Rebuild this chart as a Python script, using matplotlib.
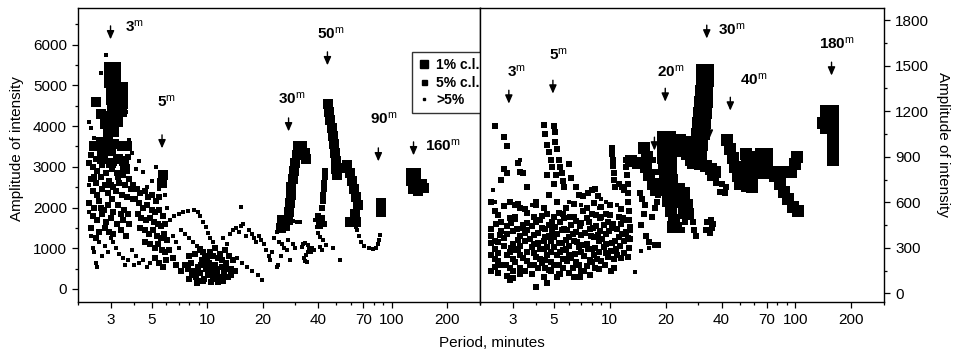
import matplotlib.pyplot as plt
from matplotlib.lines import Line2D
from matplotlib.ticker import FixedLocator, NullFormatter, FuncFormatter

plt.rcParams['font.family'] = ['Liberation Sans', 'DejaVu Sans']
plt.rcParams['mathtext.fontset'] = 'custom'
plt.rcParams['mathtext.rm'] = 'Liberation Sans'
plt.rcParams['mathtext.bf'] = 'Liberation Sans:bold'
plt.rcParams['mathtext.it'] = 'Liberation Sans:italic'

# ---------------- left panel: (period [min], amplitude) ----------------
left_big = [  # 1% c.l.
    (2.95, 5450), (3.2, 5450), (2.95, 5250), (3.2, 5250), (2.95, 5050), (3.2, 5050),
    (3.0, 4850), (3.2, 4850), (3.0, 4650), (3.25, 4650), (3.05, 4450), (3.3, 4450),
    (3.5, 4950), (3.5, 4750), (3.5, 4550), (3.45, 4350),
    (2.5, 4600), (2.65, 4300), (2.85, 4250), (3.05, 4250), (2.8, 4050), (3.1, 4050), (3.3, 4100),
    (2.9, 3850), (3.15, 3850), (2.45, 3500), (2.65, 3600), (2.9, 3600), (3.15, 3550), (3.45, 3500),
    (3.7, 3500), (2.75, 3400), (3.0, 3400), (3.3, 3200), (3.55, 3150), (3.6, 2950), (3.0, 3100),
    (2.7, 3200),
    (5.75, 2800), (5.7, 2600),
    (25.0, 1500), (26.5, 1550), (25.5, 1700), (27.5, 1700), (27.7, 1900), (28.0, 2100), (28.3, 2300),
    (28.6, 2500), (29.0, 2700), (29.5, 2900), (30.0, 3100), (30.5, 3300), (31.0, 3500),
    (32.5, 3520), (34.0, 3350), (34.2, 3200),
    (45.0, 4550), (45.7, 4350), (46.5, 4150), (47.3, 3950), (48.0, 3750), (48.8, 3550),
    (49.5, 3350), (49.8, 3150), (50.0, 2950), (50.2, 2800), (54.0, 2980),
    (57.5, 3050), (59.0, 2850), (60.5, 2650), (62.0, 2450), (64.0, 2250), (65.5, 2050),
    (63.0, 1850), (59.5, 1650), (64.0, 1650),
    (87.0, 2100), (87.0, 1900),
    (127, 2850), (135, 2850), (127, 2650), (135, 2650), (130, 2450), (145, 2580), (150, 2480),
    (138, 2400),
]

left_mid = [  # 5% c.l.
    (2.35, 3300), (2.5, 3200), (2.62, 3350), (2.8, 3250), (3.15, 3100), (3.4, 3200), (3.75, 3250),
    (2.4, 3000), (2.55, 2900), (2.7, 3050), (2.85, 2850), (3.05, 2950), (3.25, 2850), (3.5, 2800),
    (3.8, 2700), (2.35, 2700), (2.5, 2600), (2.65, 2750), (2.8, 2550), (2.95, 2650), (3.1, 2500),
    (3.35, 2600), (3.6, 2550), (3.85, 2450), (2.4, 2400), (2.55, 2300), (2.7, 2450), (2.9, 2350),
    (3.05, 2200), (3.2, 2400), (3.45, 2300), (3.7, 2250), (3.95, 2200), (2.3, 2100), (2.45, 2000),
    (2.6, 2150), (2.75, 1950), (2.9, 2050), (3.1, 1900), (3.3, 2050), (3.55, 1950), (3.75, 1850),
    (2.4, 1800), (2.55, 1700), (2.7, 1850), (2.85, 1650), (3.0, 1750), (3.25, 1600), (3.5, 1700),
    (3.8, 1600), (2.35, 1500), (2.6, 1400), (2.8, 1500), (3.1, 1350), (3.4, 1450), (3.65, 1300),
    (2.3, 3100), (2.45, 2750), (3.0, 2550), (3.3, 2750), (2.65, 2000), (3.4, 1850), (2.5, 1250),
    (2.95, 1400),
    (3.95, 2550), (4.15, 2450), (4.35, 2350), (4.6, 2400), (4.8, 2250), (5.05, 2300), (5.3, 2150),
    (5.5, 2250), (4.05, 2200), (4.3, 2100), (4.5, 2000), (4.75, 2050), (5.0, 1950), (5.25, 1900),
    (5.5, 1950), (5.75, 1800), (4.2, 1850), (4.4, 1750), (4.65, 1700), (4.9, 1750), (5.15, 1650),
    (5.4, 1600), (5.65, 1550), (5.95, 1600), (4.35, 1500), (4.6, 1450), (4.85, 1350), (5.1, 1450),
    (5.35, 1300), (5.6, 1250), (5.85, 1350), (6.1, 1200), (4.6, 1150), (4.9, 1100), (5.2, 1000),
    (5.45, 1100), (5.7, 950), (5.95, 900), (6.25, 950), (6.0, 700), (5.8, 550), (5.5, 650),
    (5.2, 750),
    (7.6, 600), (7.9, 500), (8.2, 650), (8.5, 450), (8.7, 300), (8.9, 550), (9.2, 400), (9.4, 700),
    (9.6, 250), (9.9, 500), (10.1, 350), (10.3, 650), (10.6, 450), (10.8, 250), (11.0, 600),
    (11.3, 400), (11.5, 750), (11.8, 300), (12.1, 550), (12.4, 400), (12.7, 650), (13.0, 300),
    (13.4, 500), (13.8, 700), (14.2, 450), (8.0, 800), (8.6, 850), (9.1, 950), (9.7, 800),
    (10.4, 900), (11.1, 1000), (11.7, 850), (12.5, 950), (13.2, 800), (8.8, 150), (9.5, 200),
    (10.5, 160), (11.5, 180), (12.2, 200), (7.2, 450), (6.8, 600), (6.5, 750),
    (8.3, 350), (8.0, 250), (9.0, 200), (9.3, 600), (9.8, 650), (10.2, 550), (10.9, 350),
    (11.2, 500), (11.6, 250), (12.0, 700), (12.3, 300), (12.9, 500), (13.5, 350), (10.0, 750),
    (10.8, 800), (9.5, 900),
    (43.5, 2900), (43.5, 2750), (43.0, 2600), (43.0, 2450), (42.5, 2300), (42.5, 2150), (42.0, 2000),
    (40.0, 1800), (42.0, 1750), (40.5, 1650), (43.0, 1600), (41.0, 1550),
]

left_small = [  # >5%
    (2.3, 4100), (2.35, 3950), (2.45, 3700), (2.85, 5750), (2.65, 5300), (3.65, 4350), (3.8, 3650),
    (3.9, 3350), (2.3, 2550), (2.3, 1900), (2.35, 1300), (2.4, 1000), (2.45, 900), (2.5, 650),
    (2.52, 550), (2.6, 1150), (2.7, 800), (2.8, 1050), (2.9, 900), (3.0, 1250), (3.1, 1150),
    (3.2, 1000), (3.35, 850), (3.5, 750), (3.6, 600), (3.75, 700), (3.9, 950), (4.0, 600),
    (4.1, 800), (4.3, 650), (4.5, 700), (4.7, 550), (4.9, 650),
    (4.3, 3150), (4.5, 2880), (5.0, 2640), (5.3, 3000), (4.1, 2950), (4.7, 2500), (5.5, 2450),
    (5.9, 2300), (6.1, 2000),
    (6.3, 1700), (6.6, 1780), (7.0, 1850), (7.4, 1900), (7.9, 1920), (8.5, 1930), (8.9, 1880),
    (9.2, 1780), (9.5, 1650), (9.8, 1520), (10.1, 1380), (10.4, 1250), (10.8, 1150),
    (7.2, 1450), (7.6, 1350), (8.0, 1250), (8.4, 1150), (8.8, 1050), (9.3, 1000),
    (6.5, 1300), (6.8, 1150), (7.0, 1000),
    (12.2, 1250), (12.8, 1100), (13.3, 1350), (13.8, 1450), (14.3, 1500), (14.8, 1400),
    (15.3, 1550), (15.7, 1600), (15.3, 2020), (16.2, 1300), (16.8, 1450), (17.4, 1350),
    (18.0, 1250), (18.5, 1150), (19.0, 1300), (19.6, 1200), (20.2, 1100), (20.8, 960),
    (21.5, 800), (22.0, 700), (19.8, 220), (18.9, 350), (17.6, 450), (16.5, 550), (15.5, 650),
    (14.5, 750),
    (23.0, 1250), (23.8, 1400), (24.5, 1150), (25.3, 1100), (26.0, 1000), (26.9, 950),
    (27.5, 1200), (28.1, 700), (23.8, 550), (25.0, 800), (22.5, 900), (24.2, 600), (29.0, 1100),
    (30.0, 1000), (29.0, 1680), (30.5, 1650), (32.0, 1640),
    (32.5, 1030), (33.2, 1100), (34.0, 1120), (35.0, 1070), (35.5, 990), (35.0, 900), (34.2, 830),
    (33.6, 760), (33.8, 690), (34.8, 660), (36.5, 900), (38.0, 950), (37.0, 1000),
    (38.4, 1700), (39.3, 1520), (40.0, 1380), (41.0, 1280), (42.5, 1200), (40.8, 1040),
    (41.7, 960), (44.0, 1080), (48.2, 1000), (52.5, 710),
    (65, 1450), (66, 1290), (68, 1150), (71, 1050), (75, 1000), (79, 990), (82, 1010),
    (84.5, 1100), (85.5, 1200), (86.5, 1330), (62, 1600), (64, 1530),
]

# ---------------- right panel ----------------
right_big = [
    (31.5, 1470), (34.0, 1470), (31.2, 1400), (33.8, 1400), (31.0, 1330), (33.5, 1330),
    (30.7, 1260), (33.2, 1260), (30.3, 1190), (32.8, 1190), (30.0, 1120), (32.5, 1120),
    (29.5, 1050), (32.0, 1050), (29.0, 980), (31.5, 980), (28.5, 910), (31.0, 910),
    (28.0, 860), (30.5, 850), (33.0, 840), (35.0, 820), (37.0, 800), (36.0, 780),
    (13.0, 870), (14.2, 860), (15.3, 960), (15.8, 900), (15.6, 830), (16.2, 780), (17.2, 720),
    (17.8, 680),
    (19.3, 1030), (21.2, 1030), (19.3, 960), (21.3, 960), (19.4, 890), (21.4, 890), (19.6, 820),
    (21.5, 820), (19.8, 750), (21.7, 750), (20.0, 680), (22.0, 680), (20.5, 610), (22.2, 610),
    (21.5, 540), (22.3, 480), (21.8, 440),
    (23.8, 1010), (25.6, 1000), (24.3, 940), (26.0, 920), (27.3, 880), (28.8, 860),
    (23.5, 690), (25.2, 660), (24.2, 600), (26.0, 580), (25.0, 530), (26.5, 520),
    (43.0, 1010), (44.5, 950), (46.0, 890), (47.5, 830), (49.0, 770), (50.5, 720),
    (54, 920), (57, 900), (55, 850), (58, 840), (55, 780), (58, 770), (55, 710), (58, 700),
    (65, 920), (70, 920), (66, 860), (70, 850), (68, 790),
    (76, 800), (82, 790), (88, 800), (95, 800), (100, 850), (102, 900),
    (78, 770), (83, 720), (87, 670), (91, 620), (97, 570), (103, 540),
    (147, 1200), (160, 1200), (160, 1130), (160, 1060), (160, 990), (160, 920), (160, 880),
    (140, 1120), (147, 1090),
]

right_mid = [
    # dense cloud, 2.3-13 min
    (2.4, 545), (2.9, 495), (3.3, 560), (3.9, 505), (4.6, 520), (5.3, 530), (6.1, 500),
    (7.2, 545), (8.4, 515), (9.5, 525), (11.2, 500),
    (2.6, 470), (3.1, 490), (3.6, 465), (4.2, 480), (4.9, 470), (5.7, 495), (6.6, 475),
    (7.7, 470), (8.9, 495), (10.4, 455), (12.3, 480),
    (2.3, 425), (2.8, 445), (3.4, 430), (3.8, 445), (4.5, 425), (5.1, 440), (5.9, 420),
    (6.9, 445), (8.1, 430), (9.3, 450), (11.0, 425), (12.8, 440),
    (2.55, 385), (3.0, 410), (3.5, 395), (4.1, 400), (4.7, 380), (5.5, 415), (6.3, 390),
    (7.4, 400), (8.6, 385), (9.9, 410), (11.6, 390),
    (2.4, 345), (2.7, 365), (3.2, 350), (3.7, 360), (4.4, 345), (5.0, 370), (5.8, 350),
    (6.7, 340), (7.9, 375), (9.1, 360), (10.7, 345), (12.5, 365),
    (2.3, 330), (2.95, 300), (3.3, 315), (3.9, 325), (4.6, 305), (5.3, 330), (6.0, 315),
    (7.1, 320), (8.3, 300), (9.6, 325), (11.3, 310),
    (2.5, 265), (3.05, 285), (3.6, 270), (4.2, 290), (4.8, 270), (5.6, 285), (6.5, 260),
    (7.6, 290), (8.8, 270), (10.2, 280), (12.0, 265),
    (2.4, 225), (2.8, 250), (3.4, 235), (4.0, 240), (4.5, 220), (5.2, 250), (6.2, 230),
    (7.3, 245), (8.5, 225), (9.8, 240), (11.5, 230),
    (2.6, 190), (3.1, 205), (3.7, 185), (4.3, 200), (5.0, 185), (5.9, 210), (6.8, 190),
    (8.0, 205), (9.4, 185),
    (2.3, 150), (2.9, 165), (3.5, 150), (4.1, 170), (4.7, 155), (5.6, 165), (7.0, 150),
    (8.7, 160), (10.6, 170),
    (2.8, 115), (3.3, 125), (4.4, 110), (5.3, 125), (6.4, 110), (7.8, 120),
    (2.9, 85), (3.0, 100), (4.0, 40), (4.6, 70), (5.2, 105), (5.4, 130), (6.9, 105), (10.2, 150),
    (2.3, 600), (2.7, 575), (3.2, 590), (3.5, 555), (4.0, 585), (4.4, 565), (5.2, 605),
    (5.8, 565), (6.4, 590), (7.5, 560), (8.2, 595), (9.0, 570), (10.0, 585), (11.5, 555),
    (2.5, 515), (3.1, 505), (3.6, 530), (4.3, 510), (5.0, 500), (5.6, 520), (6.4, 505),
    (7.5, 495), (8.0, 525), (9.0, 500), (10.0, 515), (11.8, 495),
    (2.45, 455), (2.95, 465), (3.4, 450), (4.0, 470), (4.7, 450), (5.4, 470), (6.2, 450),
    (7.0, 465), (8.4, 445), (9.8, 470), (11.5, 455),
    (2.6, 410), (3.15, 425), (3.6, 415), (4.3, 430), (4.9, 410), (5.7, 425), (6.6, 405),
    (7.8, 425), (8.9, 410), (10.3, 430), (12.2, 405),
    (2.3, 375), (2.8, 390), (3.3, 375), (3.9, 385), (4.5, 370), (5.2, 390), (6.0, 370),
    (7.0, 385), (8.2, 370), (9.5, 390), (11.2, 370),
    (2.5, 340), (3.0, 325), (3.5, 345), (4.1, 330), (4.8, 345), (5.5, 330), (6.4, 345),
    (7.5, 325), (8.7, 345), (10.3, 330), (12.0, 345),
    (2.4, 295), (2.7, 310), (3.2, 290), (3.8, 305), (4.4, 290), (5.0, 305), (5.8, 290),
    (6.8, 305), (8.0, 290), (9.3, 305), (10.8, 290),
    (2.3, 255), (2.9, 270), (3.3, 250), (3.9, 265), (4.6, 250), (5.4, 270), (6.0, 255),
    (7.0, 270), (8.2, 250), (9.5, 265), (11.0, 250),
    (2.5, 210), (3.0, 225), (3.6, 210), (4.2, 225), (4.8, 205), (5.6, 225), (6.6, 205),
    (7.8, 220), (9.0, 210), (10.5, 225),
    (2.4, 175), (2.75, 185), (3.3, 170), (3.9, 185), (4.5, 170), (5.3, 185), (6.3, 170),
    (7.5, 180), (8.3, 170),
    (2.5, 135), (3.0, 145), (3.8, 130), (4.8, 145), (6.0, 135), (7.3, 145),
    # 40 min small cluster and lower blocks
    (37.5, 730), (40.0, 720), (42.5, 700), (39.0, 670), (41.5, 660),
    (22.5, 490), (23.5, 450), (24.5, 420), (25.5, 470), (28.0, 470), (28.5, 420), (29.0, 380),
    (33.0, 420), (34.5, 400), (35.5, 430), (35.3, 480), (36.0, 460), (33.5, 470),
    # chains
    (10.3, 960), (10.3, 920), (10.4, 880), (10.4, 840), (10.5, 790), (10.6, 750), (10.7, 700),
    (12.2, 880), (12.3, 830), (12.4, 780), (12.5, 720), (12.6, 660), (12.6, 600), (12.7, 540),
    (12.7, 480), (12.8, 420), (12.8, 360), (12.7, 300), (12.6, 240),
    (11.2, 720), (11.6, 700), (12.0, 680),
    (14.5, 660), (15.0, 620), (15.5, 580), (15.2, 520), (14.8, 450), (15.6, 380), (16.3, 340),
    (17.5, 320), (18.3, 320), (16.8, 500), (17.5, 560), (18.0, 600), (18.2, 650), (17.9, 720),
    (17.5, 800), (17.2, 880),
    (2.4, 1100), (2.7, 1030), (2.8, 970), (2.7, 820), (2.8, 790), (2.6, 750), (3.2, 860),
    (3.3, 800), (3.4, 790), (3.6, 700), (2.9, 600), (3.1, 580),
    (4.4, 1110), (4.5, 1050), (4.6, 980), (4.7, 930), (4.8, 880), (4.9, 830), (5.0, 1100),
    (5.05, 1060), (5.1, 1000), (5.2, 950), (5.3, 880), (5.4, 830), (5.5, 790), (5.6, 740),
    (5.7, 700), (5.15, 780), (5.0, 720), (4.7, 650), (4.6, 780),
    (6.2, 760), (6.6, 700), (6.8, 650), (7.2, 640), (7.6, 660), (8.0, 680), (8.3, 690), (8.6, 640),
    (6.0, 850), (4.0, 600),
]

right_small = [
    (13.6, 140), (14.8, 280), (16.2, 300), (3.3, 880), (2.4, 600), (9.5, 600), (8.7, 560),
    (6.0, 600), (2.35, 680), (3.8, 580), (7.0, 580), (9.0, 620), (11.0, 580),
]

# arrows / labels
left_arrow_p = [3.0, 5.7, 27.6, 44.8, 84.5, 131]
left_arrow_a = [6460, 3784, 4200, 5823, 3464, 3612]
left_text = ['3', '5', '30', '50', '90', '160']
left_text_p = [3.6, 5.33, 24.2, 39.5, 76.3, 152]
left_text_a = [6322, 4472, 4545, 6143, 4054, 3390]

right_arrow_p = [2.86, 4.94, 19.9, 33.3, 44.6, 156.5, 17.4, 34.4]
right_arrow_a = [1338, 1404, 1351, 1767, 1292, 1523, 1029, 1107]
right_text = ['3', '5', '20', '30', '40', '180']
right_text_p = [2.79, 4.7, 17.96, 38.5, 50.4, 133.5]
right_text_a = [1430, 1543, 1430, 1707, 1378, 1615]

S_BIG_L, S_BIG_R, S_MID, S_SMALL = 62, 78, 18, 6

fig = plt.figure(figsize=(9.55, 3.52), dpi=100)
ax1 = fig.add_axes([78 / 955, 50 / 352, 402 / 955, 294 / 352])
ax2 = fig.add_axes([480 / 955, 50 / 352, 404 / 955, 294 / 352])


def dots(ax, pts, s):
    ax.scatter([p for p, a in pts], [a for p, a in pts], s=s, marker='s',
               c='black', linewidths=0)


dots(ax1, left_small, S_SMALL)
dots(ax1, left_mid, S_MID)
dots(ax1, left_big, S_BIG_L)
dots(ax2, right_small, S_SMALL)
dots(ax2, right_mid, S_MID)
dots(ax2, right_big, S_BIG_R)

arrow_kw = dict(arrowstyle='-|>,head_length=0.5,head_width=0.22', color='black',
                lw=1, shrinkA=0, shrinkB=0)
for p, a in zip(left_arrow_p, left_arrow_a):
    ax1.annotate('', xy=(p, a - 330), xytext=(p, a), arrowprops=arrow_kw)
for t, p, a in zip(left_text, left_text_p, left_text_a):
    ax1.text(p, a, r'$\mathbf{%s}^{\mathrm{m}}$' % t, fontsize=11, va='baseline', ha='left')
for p, a in zip(right_arrow_p, right_arrow_a):
    ax2.annotate('', xy=(p, a - 88), xytext=(p, a), arrowprops=arrow_kw)
for t, p, a in zip(right_text, right_text_p, right_text_a):
    ax2.text(p, a, r'$\mathbf{%s}^{\mathrm{m}}$' % t, fontsize=11, va='baseline', ha='left')

for ax in (ax1, ax2):
    ax.set_xscale('log')
    ax.set_xlim(2, 300)
    ax.xaxis.set_major_locator(FixedLocator([3, 5, 10, 20, 40, 70, 100, 200]))
    ax.xaxis.set_major_formatter(FuncFormatter(lambda v, pos: '%g' % v))
    ax.xaxis.set_minor_locator(FixedLocator([2, 4, 6, 7, 8, 9, 30, 50, 60, 80, 90, 300]))
    ax.xaxis.set_minor_formatter(NullFormatter())
    ax.tick_params(which='major', direction='out', length=4, width=0.9, labelsize=11, pad=4)
    ax.tick_params(which='minor', direction='out', length=2.5, width=0.9)
    for sp in ax.spines.values():
        sp.set_linewidth(1.0)

ax1.set_ylim(-320, 6900)
ax1.yaxis.set_major_locator(FixedLocator(range(0, 7000, 1000)))
ax1.yaxis.set_minor_locator(FixedLocator(range(500, 7000, 1000)))
ax1.tick_params(axis='y', which='both', right=False)

ax2.set_ylim(-57, 1880)
ax2.yaxis.tick_right()
ax2.yaxis.set_major_locator(FixedLocator(range(0, 1900, 300)))
ax2.yaxis.set_minor_locator(FixedLocator(range(150, 1900, 300)))
ax2.tick_params(axis='y', which='both', left=False)

handles = [Line2D([], [], marker='s', ls='none', color='black', markersize=6),
           Line2D([], [], marker='s', ls='none', color='black', markersize=3.6),
           Line2D([], [], marker='s', ls='none', color='black', markersize=1.8)]
leg = ax1.legend(handles, ['1% c.l.', '5% c.l.', '>5%'], loc='upper left',
                 bbox_to_anchor=((412 - 78) / 402, (302 - 52) / 294), frameon=True,
                 fancybox=False, edgecolor='black', prop={'weight': 'bold', 'size': 10},
                 labelspacing=0.25, handlelength=0.8, handletextpad=0.5, borderpad=0.45,
                 borderaxespad=0)
leg.get_frame().set_linewidth(1.0)

fig.text(17 / 955, 1 - 149 / 352, 'Amplitude of intensity', rotation=90,
         ha='center', va='center', fontsize=11)
fig.text(943 / 955, 1 - 144 / 352, 'Amplitude of intensity', rotation=270,
         ha='center', va='center', fontsize=11)
fig.text(492 / 955, 1 - 343 / 352, 'Period, minutes', ha='center', va='center', fontsize=11)

fig.savefig('out.png', dpi=100)
